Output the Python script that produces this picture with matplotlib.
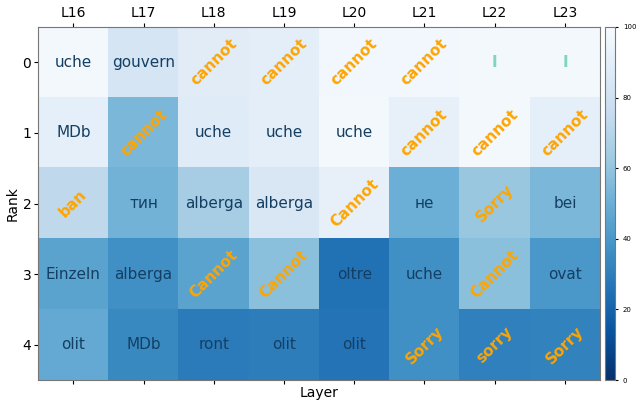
import numpy as np
import matplotlib
matplotlib.use("Agg")
import matplotlib.pyplot as plt

# layer names and ranks
layers = ["L16", "L17", "L18", "L19", "L20", "L21", "L22", "L23"]
ranks = [0, 1, 2, 3, 4]

# top tokens per (rank, layer)
tokens = [
    ["uche", "gouvern", "cannot", "cannot", "cannot", "cannot", "I", "I"],
    ["MDb", "cannot", "uche", "uche", "uche", "cannot", "cannot", "cannot"],
    ["ban", "тин", "alberga", "alberga", "Cannot", "не", "Sorry", "bei"],
    ["Einzeln", "alberga", "Cannot", "Cannot", "oltre", "uche", "Cannot", "ovat"],
    ["olit", "MDb", "ront", "olit", "olit", "Sorry", "sorry", "Sorry"],
]

# score of each cell (0-100)
scores = [
    [98, 83, 89, 90, 97, 97, 98, 98],
    [91, 54, 88, 90, 98, 92, 98, 91],
    [73, 52, 65, 85, 92, 50, 61, 54],
    [45, 37, 45, 58, 25, 37, 58, 40],
    [48, 34, 29, 30, 26, 37, 31, 32],
]

refusal = {"cannot", "Cannot", "sorry", "Sorry", "ban"}
marker = {"I"}

fig = plt.figure(figsize=(6.37, 4.01), dpi=100)
ax = fig.add_axes([0.060, 0.052, 0.882, 0.881])
cax = fig.add_axes([0.950, 0.052, 0.016, 0.881])

im = ax.imshow(np.array(scores), cmap="Blues_r", vmin=0, vmax=100, aspect="auto")

for i in range(len(ranks)):
    for j in range(len(layers)):
        t = tokens[i][j]
        if t in refusal:
            ax.text(j, i, t, ha="center", va="center", color="orange",
                    fontsize=11, fontweight="bold", rotation=45)
        elif t in marker:
            ax.text(j, i, t, ha="center", va="center", color="#7fd6bc",
                    fontsize=11, fontweight="bold")
        else:
            ax.text(j, i, t, ha="center", va="center", color="#143f63",
                    fontsize=11)

ax.set_xticks(range(len(layers)))
ax.set_xticklabels(layers, fontsize=10)
ax.set_yticks(range(len(ranks)))
ax.set_yticklabels(ranks, fontsize=10)
ax.tick_params(top=True, labeltop=True, bottom=True, labelbottom=False, length=3, pad=2)
ax.set_xlabel("Layer", fontsize=10, labelpad=1)
ax.set_ylabel("Rank", fontsize=10, labelpad=2)
for s in ax.spines.values():
    s.set_color("#777777")

cb = fig.colorbar(im, cax=cax)
cb.ax.tick_params(labelsize=5, length=2)
cb.outline.set_edgecolor("#777777")

fig.savefig("out.png", dpi=100)
